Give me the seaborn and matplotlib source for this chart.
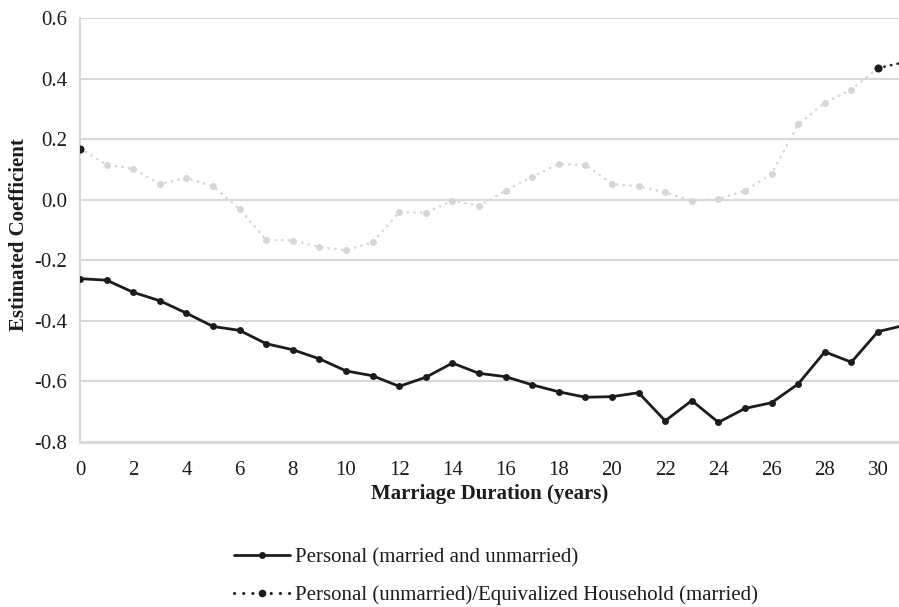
import matplotlib
matplotlib.use("Agg")
import matplotlib.pyplot as plt
from matplotlib.lines import Line2D
import pandas as pd
import seaborn as sns

# marriage duration in years
years = list(range(0, 32))

personal_all = [
    -0.261, -0.266, -0.306, -0.334, -0.375, -0.419, -0.432, -0.476, -0.496, -0.526,
    -0.566, -0.582, -0.617, -0.587, -0.540, -0.574, -0.585, -0.612, -0.635, -0.653,
    -0.651, -0.638, -0.731, -0.664, -0.736, -0.690, -0.671, -0.609, -0.503, -0.537,
    -0.436, -0.415,
]

personal_equiv = [
    0.169, 0.116, 0.102, 0.052, 0.072, 0.044, -0.031, -0.133, -0.135, -0.156,
    -0.167, -0.141, -0.041, -0.043, -0.003, -0.020, 0.030, 0.076, 0.118, 0.115,
    0.052, 0.044, 0.024, -0.003, 0.002, 0.030, 0.085, 0.249, 0.321, 0.364,
    0.435, 0.455,
]

# points of the second series shown in black
highlight_years = [0, 30]

y_ticks = [-0.8, -0.6, -0.4, -0.2, 0.0, 0.2, 0.4, 0.6]
x_ticks = list(range(0, 31, 2))

label_all = "Personal (married and unmarried)"
label_equiv = "Personal (unmarried)/Equivalized Household (married)"

BLACK = "#1c1c1c"
GRAY = "#d6d6d6"
GRID = "#d9d9d9"
FS = 15

sns.set_theme(style="white")
plt.rcParams["font.family"] = ["Liberation Serif", "DejaVu Serif"]

df = pd.DataFrame({"year": years, "all": personal_all, "equiv": personal_equiv})

fig = plt.figure(figsize=(8.99, 6.07), dpi=100)
ax = fig.add_axes([0.089, 0.2723, 0.911, 0.6977])

dotted = (0, (0.05, 2.5))

# grey dotted series
sns.lineplot(data=df, x="year", y="equiv", color=GRAY, linewidth=1.9,
             linestyle=dotted, dash_capstyle="round", marker="o", markersize=5,
             markeredgewidth=0, markerfacecolor=GRAY, ax=ax, zorder=2)

# black tail of the dotted series
tail = df[df["year"] >= 30]
sns.lineplot(data=tail, x="year", y="equiv", color=BLACK, linewidth=1.9,
             linestyle=dotted, dash_capstyle="round", ax=ax, zorder=3)
hl = df[df["year"].isin(highlight_years)]
sns.scatterplot(data=hl, x="year", y="equiv", color=BLACK, s=34,
                linewidth=0, ax=ax, zorder=4)

# solid black series
sns.lineplot(data=df, x="year", y="all", color=BLACK, linewidth=2.0,
             marker="o", markersize=5, markeredgewidth=0, ax=ax, zorder=3)

ax.set_xlim(0, 30.79)
ax.set_ylim(-0.8, 0.6)
ax.set_xticks(x_ticks)
ax.set_xticklabels([str(t) for t in x_ticks])
ax.set_yticks(y_ticks)
ax.set_yticklabels([f"{t:.1f}" for t in y_ticks])
ax.tick_params(axis="both", length=0, labelsize=FS, colors=BLACK)
ax.tick_params(axis="y", pad=9.4)
ax.tick_params(axis="x", pad=14)

ax.grid(axis="y", color=GRID, linewidth=1.5)
ax.set_axisbelow(True)
for side in ["top", "right"]:
    ax.spines[side].set_visible(False)
ax.spines["left"].set_color(GRID)
ax.spines["left"].set_linewidth(1.5)
ax.spines["bottom"].set_color(GRID)
ax.spines["bottom"].set_linewidth(2.0)

ax.set_xlabel("Marriage Duration (years)", fontsize=FS, fontweight="bold",
              color=BLACK, labelpad=3)
ax.set_ylabel("Estimated Coefficient", fontsize=FS, fontweight="bold",
              color=BLACK)
ax.yaxis.set_label_coords(-0.0617, 0.488)

handles = [
    Line2D([], [], color=BLACK, linewidth=2.0, marker="o", markersize=5,
           markeredgewidth=0),
    Line2D([], [], color=BLACK, linewidth=2.2, linestyle=(0, (0.05, 2.95)),
           dash_capstyle="round", marker="o", markersize=5.5, markeredgewidth=0),
]
fig.legend(handles, [label_all, label_equiv], loc="upper left",
           bbox_to_anchor=(0.2603, 0.098), frameon=False, fontsize=FS,
           handlelength=2.69, handletextpad=0.24, labelspacing=0.88,
           borderpad=0, borderaxespad=0, labelcolor=BLACK)

fig.savefig("out.png", dpi=100)
plt.close(fig)
